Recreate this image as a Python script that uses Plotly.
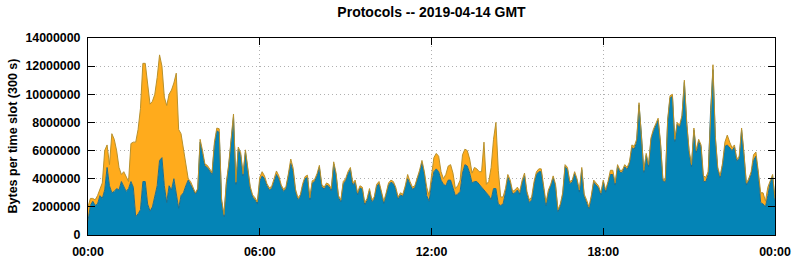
import pandas as pd
import plotly.graph_objects as go

# Values in millions of bytes per 5-minute slot
total_mb = [
    2.0, 2.6, 2.6, 2.5, 2.8, 3.3, 3.7, 6.0, 6.4, 5.0,
    7.2, 6.8, 6.0, 4.8, 4.3, 4.5, 4.1, 3.8, 6.5, 6.6,
    6.6, 7.5, 9.0, 12.2, 12.2, 10.6, 9.3, 9.5, 10.0, 11.2,
    12.8, 12.0, 9.8, 9.2, 10.0, 10.3, 10.8, 11.5, 7.5, 7.2,
    6.2, 5.3, 4.0, 3.8, 3.4, 3.0, 3.3, 6.8, 6.0, 5.05,
    4.95, 4.65, 4.45, 6.6, 7.6, 7.55, 2.55, 1.45, 3.75, 5.05,
    7.05, 8.6, 3.75, 6.25, 5.85, 4.35, 6.05, 4.65, 3.45, 2.85,
    2.65, 2.35, 4.1, 4.5, 4.2, 3.65, 3.35, 3.45, 4.0, 4.55,
    4.2, 3.55, 3.25, 3.45, 4.35, 5.4, 4.75, 3.25, 2.65, 2.85,
    3.65, 4.15, 4.25, 2.65, 3.85, 3.95, 4.35, 4.95, 3.6, 3.4,
    3.7, 3.6, 3.3, 5.2, 4.4, 2.8, 2.5, 3.8, 4.0, 4.5,
    4.8, 3.7, 3.9, 3.0, 3.5, 3.4, 2.3, 2.6, 3.3, 2.5,
    2.7, 3.6, 3.8, 3.1, 2.4, 3.0, 3.7, 3.9, 3.8, 3.4,
    2.7, 3.0, 2.9, 3.5, 4.3, 3.8, 3.4, 3.5, 4.0, 4.6,
    5.3, 4.5, 3.4, 2.8, 4.2, 5.5, 5.8, 5.6, 4.5, 4.0,
    4.3, 4.9, 5.0, 4.4, 3.3, 3.5, 3.9, 5.7, 6.1, 6.0,
    5.4, 4.4, 4.8, 4.7, 4.5, 4.5, 6.6, 3.6, 3.8, 4.8,
    6.8, 8.0, 4.6, 2.7, 2.7, 3.3, 4.3, 3.9, 3.1, 3.2,
    3.4, 3.1, 3.9, 4.4, 3.1, 2.5, 2.7, 3.8, 4.5, 4.7,
    4.7, 3.5, 2.3, 3.2, 3.6, 4.2, 3.6, 1.8, 2.2, 3.0,
    5.0, 4.8, 3.8, 3.9, 4.5, 4.0, 3.2, 4.8, 2.9, 2.5,
    2.0, 2.8, 3.9, 3.7, 3.5, 3.0, 3.9, 3.2, 3.8, 4.6,
    4.6, 3.7, 5.0, 4.6, 4.6, 5.0, 4.8, 5.2, 6.4, 6.3,
    6.8, 9.4, 7.3, 4.6, 5.8, 5.0, 6.9, 7.5, 7.9, 8.3,
    6.6, 4.0, 3.9, 8.2, 9.9, 10.0, 6.8, 8.0, 7.8, 8.5,
    11.0, 8.0, 6.0, 5.0, 7.6, 6.0, 6.8, 6.4, 4.2, 4.1,
    4.5, 9.0, 12.1, 7.0, 4.8, 4.2, 5.1, 6.6, 7.1, 6.6,
    6.2, 6.4, 5.4, 5.6, 7.6, 5.8, 3.7, 4.0, 4.5, 5.7,
    5.9, 4.5, 3.0, 3.0, 2.4, 3.4, 3.9, 4.3, 2.6,
]

blue_mb = [
    1.0, 2.1, 2.4, 2.1, 2.2, 2.8, 2.6, 3.2, 4.8, 3.5,
    3.0, 3.1, 3.3, 3.2, 3.8, 3.5, 3.1, 3.3, 3.8, 3.4,
    1.3, 1.5, 1.8, 3.8, 3.8, 2.2, 1.7, 2.0, 2.7, 3.5,
    5.3, 5.5, 3.5, 2.3, 3.5, 3.2, 4.0, 2.8, 1.9, 2.8,
    3.0, 3.5, 3.9, 3.6, 3.2, 2.9, 3.2, 6.6, 5.8, 4.9,
    4.8, 4.5, 4.3, 6.4, 7.4, 7.3, 2.4, 1.3, 3.6, 4.9,
    6.9, 8.4, 3.6, 6.1, 5.7, 4.2, 5.9, 4.5, 3.3, 2.7,
    2.5, 2.2, 3.8, 4.2, 4.0, 3.5, 3.2, 3.3, 3.8, 4.3,
    4.0, 3.4, 3.1, 3.3, 4.2, 5.1, 4.5, 3.1, 2.5, 2.7,
    3.5, 4.0, 4.1, 2.5, 3.7, 3.8, 4.2, 4.8, 3.45, 3.25,
    3.55, 3.45, 3.15, 5.05, 4.25, 2.65, 2.35, 3.65, 3.85, 4.35,
    4.65, 3.55, 3.75, 2.85, 3.35, 3.25, 2.15, 2.45, 3.15, 2.35,
    2.55, 3.45, 3.65, 2.95, 2.25, 2.85, 3.55, 3.75, 3.65, 3.25,
    2.55, 2.85, 2.75, 3.35, 4.0, 3.6, 3.25, 3.35, 3.85, 4.45,
    5.15, 4.35, 2.8, 2.4, 3.6, 4.5, 4.7, 4.5, 3.9, 3.6,
    3.5, 3.9, 3.9, 3.4, 2.8, 2.9, 3.1, 4.4, 5.0, 4.9,
    4.4, 3.7, 3.8, 3.8, 3.6, 3.4, 3.2, 3.0, 2.8, 2.5,
    3.3, 3.3, 2.2, 2.1, 2.2, 3.0, 4.1, 3.7, 2.9, 3.0,
    3.2, 2.9, 3.7, 4.2, 2.9, 2.3, 2.5, 3.6, 4.3, 4.5,
    4.5, 3.3, 2.1, 3.0, 3.45, 4.05, 3.45, 1.65, 2.05, 2.85,
    4.85, 4.65, 3.65, 3.75, 4.35, 3.85, 3.05, 4.65, 2.75, 2.35,
    1.85, 2.65, 3.75, 3.55, 3.35, 2.85, 3.75, 3.05, 3.65, 4.3,
    4.3, 3.55, 4.85, 4.45, 4.45, 4.85, 4.65, 5.05, 6.2, 6.1,
    6.6, 9.25, 7.15, 4.45, 5.65, 4.85, 6.75, 7.35, 7.75, 8.15,
    6.45, 3.85, 3.75, 8.05, 9.75, 9.85, 6.65, 7.85, 7.65, 8.35,
    10.85, 7.85, 5.85, 4.85, 7.45, 5.85, 6.65, 6.25, 3.8, 3.8,
    4.3, 8.85, 11.75, 6.85, 4.65, 4.05, 4.95, 6.3, 6.4, 6.2,
    6.0, 6.25, 5.25, 5.45, 7.45, 5.65, 3.55, 3.85, 4.3, 5.3,
    5.6, 4.35, 2.3, 2.2, 2.0, 2.8, 3.75, 4.15, 2.45,
]

times = pd.date_range("2019-04-14 00:00", periods=len(total_mb), freq="5min")
x_ticks = ["2019-04-14 00:00", "2019-04-14 06:00", "2019-04-14 12:00",
           "2019-04-14 18:00", "2019-04-15 00:00"]
x_tick_labels = ["00:00", "06:00", "12:00", "18:00", "00:00"]
y_ticks = [0, 2000000, 4000000, 6000000, 8000000, 10000000, 12000000, 14000000]

total = [v * 1e6 for v in total_mb]
blue = [v * 1e6 for v in blue_mb]

FONT = "Liberation Sans, Arial, Helvetica, sans-serif"

fig = go.Figure()
fig.add_trace(go.Scatter(
    x=times, y=blue, mode="lines", fill="tozeroy",
    fillcolor="#0484b6", line=dict(color="#1f6d8c", width=1),
    name="blue", hoverinfo="skip"))
fig.add_trace(go.Scatter(
    x=times, y=total, mode="lines", fill="tonexty",
    fillcolor="#ffab1c", line=dict(color="#b8912c", width=1),
    name="orange", hoverinfo="skip"))

axis_common = dict(
    showline=True, linecolor="black", linewidth=1, mirror="allticks",
    ticks="inside", ticklen=7, tickcolor="black", tickwidth=1,
    showgrid=True, gridcolor="#b0b0b0", griddash="1px,3px", gridwidth=1,
    zeroline=False, automargin=False,
    tickfont=dict(family=FONT, size=12.4, color="black", weight="bold"),
)

fig.update_xaxes(
    type="date", range=[x_ticks[0], x_ticks[-1]],
    tickvals=x_ticks, ticktext=x_tick_labels,
    ticklabelstandoff=5, **axis_common)
fig.update_yaxes(
    range=[0, 14000000], tickvals=y_ticks,
    ticktext=[str(v) for v in y_ticks],
    ticklabelstandoff=4, **axis_common)

fig.update_layout(
    width=795, height=260,
    margin=dict(l=88, r=20, t=38, b=25, autoexpand=False),
    plot_bgcolor="white", paper_bgcolor="white",
    showlegend=False,
    title=dict(text="Protocols -- 2019-04-14 GMT",
               font=dict(family=FONT, size=14, color="black", weight="bold"),
               x=0.5, xref="paper", xanchor="center",
               y=1 - 12 / 260, yref="container", yanchor="middle",
               automargin=False),
    annotations=[dict(
        text="Bytes per time slot (300 s)", textangle=-90,
        xref="paper", yref="paper", x=(12 - 88) / 687, y=0.5,
        xanchor="center", yanchor="middle", showarrow=False,
        font=dict(family=FONT, size=12.5, color="black", weight="bold"))],
)

fig.write_html("out.html")
